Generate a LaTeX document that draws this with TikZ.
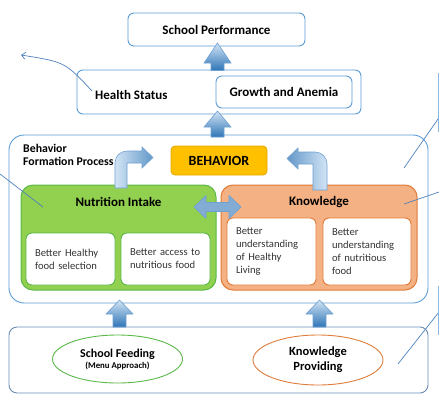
\documentclass[tikz,border=0pt]{standalone}
\usepackage{fontspec}
\setmainfont{Carlito}
\usetikzlibrary{arrows.meta,shapes.geometric,calc}
\definecolor{boxblue}{HTML}{5B9BD5}
\definecolor{lineblue}{HTML}{4F81BD}
\definecolor{arrlight}{HTML}{D2E4F5}
\definecolor{arrdark}{HTML}{2E75B6}
\definecolor{arredge}{HTML}{6FA0D2}
\definecolor{greenfill}{HTML}{92D050}
\definecolor{greenedge}{HTML}{5CB84A}
\definecolor{orangefill}{HTML}{F4B183}
\definecolor{orangeedge}{HTML}{E07B39}
\definecolor{behfill}{HTML}{FFC000}
\definecolor{behedge}{HTML}{E0A800}
\definecolor{botedge}{HTML}{6A8DB8}
\newcommand\UpBlock[4]{% cx, tip, bottom, head height
  \shade[top color=arrlight, bottom color=arrdark, draw=arredge, line width=0.6pt]
   ({#1-6.5},#3) -- ({#1-6.5},{#2+#4}) -- ({#1-13.5},{#2+#4}) -- (#1,#2)
   -- ({#1+13.5},{#2+#4}) -- ({#1+6.5},{#2+#4}) -- ({#1+6.5},#3) -- cycle;}
\tikzset{
  bluebox/.style={draw=boxblue, line width=0.9pt, rounded corners=6pt, fill=white},
  title/.style={font=\fontsize{13}{15}\selectfont\bfseries, text=black},
  subtxt/.style={font=\fontsize{10.6}{13}\selectfont, text=black!80, align=left},
  greeninner/.style={draw=greenedge, line width=0.9pt, rounded corners=6pt, fill=white, subtxt, inner xsep=9pt},
  orangeinner/.style={draw=orangeedge, line width=0.9pt, rounded corners=6pt, fill=white, subtxt, inner xsep=9pt},
  thin/.style={draw=lineblue, line width=0.7pt},
}
\begin{document}
\begin{tikzpicture}[x=1pt,y=-1pt]
\useasboundingbox (0,0) rectangle (439,400);
% top
\node[bluebox, minimum width=177pt, minimum height=33pt, title] (perf) at (216.5,29.5) {School Performance};
\node[bluebox, minimum width=284pt, minimum height=44pt] (health) at (219,92) {};
\node[bluebox, minimum width=136pt, minimum height=32pt, title] (growth) at (284,92) {Growth and Anemia};
\node[title, anchor=west, inner sep=0pt] (hs) at (95,95) {Health Status};
% process box
\node[draw=boxblue, line width=0.9pt, rounded corners=15pt, minimum width=419pt, minimum height=168pt] (proc) at (218.5,219) {};
\node[font=\fontsize{11.8}{13.5}\selectfont\bfseries, align=left, anchor=north west, inner sep=0pt] (bfp) at (23,144) {Behavior\\Formation Process};
\node[draw=behedge, fill=behfill, line width=0.8pt, rounded corners=4pt, minimum width=96pt, minimum height=29pt, font=\fontsize{14}{15}\selectfont\bfseries] (beh) at (219,160.5) {BEHAVIOR};
% green
\node[draw=greenedge, fill=greenfill, line width=1pt, rounded corners=12pt, minimum width=195pt, minimum height=105pt] (nut) at (118.5,237.5) {};
\node[title] (nutt) at (118.5,202) {Nutrition Intake};
\node[greeninner, minimum width=89pt, minimum height=52pt, text width=71pt] (g1) at (70.5,259) {Better Healthy\\food selection};
\node[greeninner, minimum width=89pt, minimum height=52pt, text width=71pt] (g2) at (165.5,259) {Better access to\\nutritious food};
% orange
\node[draw=orangeedge, fill=orangefill, line width=1pt, rounded corners=12pt, minimum width=196pt, minimum height=105pt] (kno) at (319,237.5) {};
\node[title] (knot) at (319,202) {Knowledge};
\node[orangeinner, minimum width=89pt, minimum height=67pt, text width=71pt] (o1) at (271.5,251.5) {Better\\understanding\\of Healthy\\Living};
\node[orangeinner, minimum width=88pt, minimum height=67pt, text width=70pt] (o2) at (367,251.5) {Better\\understanding\\of nutritious\\food};
% bottom
\node[draw=botedge, line width=0.9pt, rounded corners=8pt, minimum width=419pt, minimum height=66pt] (bot) at (218.5,360) {};
\node[ellipse, draw=greenedge, line width=0.9pt, minimum width=130pt, minimum height=48pt, inner sep=0pt, align=center] (sf) at (117.5,359)
  {\fontsize{12}{14}\selectfont\bfseries School Feeding\\[-1pt]\fontsize{8.8}{10}\selectfont\bfseries (Menu Approach)};
\node[ellipse, draw=orangeedge, line width=0.9pt, minimum width=130pt, minimum height=50pt, inner sep=0pt, align=center, font=\fontsize{12.5}{15}\selectfont\bfseries] (kp) at (318,360) {Knowledge\\Providing};
% block arrows
\UpBlock{217.5}{43}{70.5}{20}
\UpBlock{217.5}{111}{137}{16}
\UpBlock{119.5}{300}{327}{14}
\UpBlock{319.5}{300}{327}{14}
% bent arrows
\shade[left color=arrlight, right color=arrdark!75, draw=arredge, line width=0.6pt]
  (115,188) -- (115,163) arc[start angle=180, end angle=270, radius=12] -- (142,151) -- (142,147) -- (153,157.5) -- (142,168) -- (142,163) -- (127,163) -- (127,188) -- cycle;
\shade[right color=arrlight, left color=arrdark!75, draw=arredge, line width=0.6pt]
  (327,190) -- (327,164) arc[start angle=0, end angle=-90, radius=12] -- (298,152) -- (298,148) -- (287,158.5) -- (298,169) -- (298,164) -- (313,164) -- (313,190) -- cycle;
% double arrow
\shade[left color=arrdark!60, middle color=arrlight, right color=arrdark!60, draw=arredge, line width=0.6pt]
  (194,207) -- (206,195.5) -- (206,202.5) -- (229,202.5) -- (229,195.5) -- (241,207) -- (229,218.5) -- (229,211.5) -- (206,211.5) -- (206,218.5) -- cycle;
% thin callout lines
\coordinate (c0) at (92,91);
\coordinate (c1) at (21,55);
\draw[thin, -{Straight Barb[length=4pt,width=7pt]}] (c0) .. controls (65,62) .. (c1);
\coordinate (c2) at (0,174);
\coordinate (c2b) at (43,207);
\draw[thin] (c2) -- (c2b);
\coordinate (c3) at (438.7,118);
\coordinate (c3b) at (404,168);
\draw[thin] (c3) -- (c3b);
\coordinate (c4) at (439,192);
\coordinate (c4b) at (404,204);
\draw[thin] (c4) -- (c4b);
\coordinate (c5) at (439,312);
\coordinate (c5b) at (398,364);
\draw[thin] (c5) -- (c5b);
\coordinate (v1) at (438,73);
\coordinate (v1b) at (438,132);
\draw[draw=boxblue!70, line width=0.7pt] (v1) -- (v1b);
\coordinate (v2) at (438,286);
\coordinate (v2b) at (438,335);
\draw[draw=boxblue!70, line width=0.7pt] (v2) -- (v2b);
\end{tikzpicture}
\end{document}
